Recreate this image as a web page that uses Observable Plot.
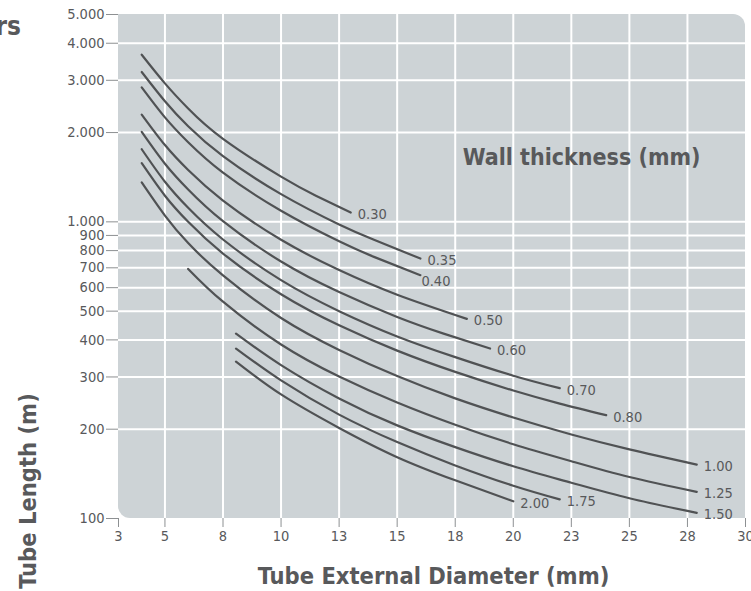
<!DOCTYPE html>
<html><head><meta charset="utf-8">
<script src="https://cdn.jsdelivr.net/npm/d3@7"></script>
<script src="https://cdn.jsdelivr.net/npm/@observablehq/plot@0.6"></script>
<style>
html,body{margin:0;padding:0;background:#fff;}
#chart{position:relative;width:751px;height:591px;overflow:hidden;}
</style></head><body><div id="chart"></div>
<script>
// ---- data ----
const thickness = ["0.30","0.35","0.40","0.50","0.60","0.70","0.80","1.00","1.25","1.50","1.75","2.00"];
const t030 = [[4.0,3660],[5,2930],[6,2410],[7.5,1905],[10,1420],[11.5,1225],[13.0,1075]];
const t035 = [[4.0,3200],[5,2550],[6,2100],[7.5,1665],[10,1240],[12.5,980],[14,870],[16.0,752]];
const t040 = [[4.0,2840],[5,2250],[6,1855],[7.5,1465],[10,1090],[12.5,860],[14,762],[16.0,661]];
const t050 = [[4.0,2300],[5,1815],[6,1495],[7.5,1180],[10,870],[12.5,688],[15,568],[18.0,471]];
const t060 = [[4.0,2010],[5,1570],[6,1285],[7.5,1005],[10,735],[12.5,580],[15,478],[17,420],[19.0,374]];
const t070 = [[4.0,1757],[5,1365],[6,1115],[7.5,872],[10,636],[12.5,500],[15,411],[17.5,350],[20,303],[22.0,275]];
const t080 = [[4.0,1577],[5,1225],[6,1000],[7.5,782],[10,570],[12.5,448],[15,368],[17.5,312],[20,270],[22,244],[24.0,223]];
const t100 = [[4.0,1358],[5,1050],[6,848],[7.5,660],[10,474],[12.5,370],[15,302],[17.5,254],[20,219],[22.5,192],[25,171],[27.9,152]];
const t125 = [[6.0,694],[7.5,538],[10,386],[12.5,301],[15,246],[17.5,207],[20,178],[22.5,156],[25,138],[27.9,123]];
const t150 = [[8.06,420],[10,329],[12.5,254],[15,206],[17.5,174],[20,150],[22.5,132],[25,117],[27.9,104.5]];
const t175 = [[8.06,374],[10,292],[12.5,224],[15,181],[17.5,151],[20,129],[22.0,116]];
const t200 = [[8.06,338],[10,262],[12.5,202],[15,161],[17.5,134.5],[20.0,114.3]];

const xTicks = [3,5,7.5,10,12.5,15,17.5,20,22.5,25,27.5,30];
const xTickLabels = ["3","5","8","10","13","15","18","20","23","25","28","30"];
const yTicks = [100,200,300,400,500,600,700,800,900,1000,2000,3000,4000,5000];
const yTickLabels = ["100","200","300","400","500","600","700","800","900","1.000","2.000","3.000","4.000","5.000"];

const xTitle = "Tube External Diameter (mm)";
const yTitle = "Tube Length (m)";
const legendTitle = "Wall thickness (mm)";
const cutTitle = "rs";

// ---- build tables ----
const series = [t030,t035,t040,t050,t060,t070,t080,t100,t125,t150,t175,t200];
const rows = series.flatMap((pts,i)=>pts.map(([x,y])=>({t:thickness[i],x,y})));
const ends = series.map((pts,i)=>({t:thickness[i],x:pts[pts.length-1][0],y:pts[pts.length-1][1]}));

const FONT = "'DejaVu Sans Condensed','DejaVu Sans',sans-serif";
const TXT = "#58595b";
const LINE = "#505254";

const chart = Plot.plot({
  width:751, height:591,
  marginTop:14, marginRight:6, marginBottom:73, marginLeft:118,
  style:{fontFamily:FONT, background:"transparent", color:TXT, overflow:"visible"},
  x:{type:"linear", domain:[3,30]},
  y:{type:"log", domain:[100,5000]},
  marks:[
    Plot.gridX(xTicks.filter(d=>d>3&&d<30), {stroke:"#fff", strokeOpacity:1, strokeWidth:2}),
    Plot.gridY(yTicks.filter(d=>d>100&&d<5000), {stroke:"#fff", strokeOpacity:1, strokeWidth:2}),
    Plot.axisX(xTicks, {tickFormat:d=>xTickLabels[xTicks.indexOf(d)], tickSize:9, tickPadding:3, fontSize:14.5, stroke:"#8d9092", fill:TXT, label:null}),
    Plot.axisY(yTicks, {tickFormat:d=>yTickLabels[yTicks.indexOf(d)], tickSize:12, tickPadding:2, fontSize:14.5, stroke:"#8d9092", fill:TXT, label:null}),
    Plot.line(rows, {x:"x", y:"y", z:"t", curve:"natural", stroke:LINE, strokeWidth:2.2}),
    Plot.text(ends.filter(d=>d.t!=="0.40"), {x:"x", y:"y", text:"t", dx:7, dy:2, textAnchor:"start", fontSize:14.5, fill:TXT}),
    Plot.text(ends.filter(d=>d.t==="0.40"), {x:"x", y:"y", text:"t", dx:1, dy:6, textAnchor:"start", fontSize:14.5, fill:TXT}),
    Plot.text([legendTitle], {text:d=>d, frameAnchor:"top-right", dx:-45, dy:134, textAnchor:"end", fontSize:23, fontWeight:"bold", fill:TXT})
  ]
});

// rounded plot background (top-right and bottom-left corners rounded)
const sx = chart.scale("x"), sy = chart.scale("y");
const x0 = sx.apply(3), x1 = sx.apply(30), y0 = sy.apply(5000), y1 = sy.apply(100), r = 12;
const svg = d3.select(chart);
const firstG = chart.querySelector("g");
const bg = document.createElementNS("http://www.w3.org/2000/svg","path");
bg.setAttribute("d", `M${x0},${y0}H${x1-r}A${r},${r} 0 0 1 ${x1},${y0+r}V${y1}H${x0+r}A${r},${r} 0 0 1 ${x0},${y1-r}Z`);
bg.setAttribute("fill", "#cdd3d6");
chart.insertBefore(bg, firstG);

// axis titles
svg.append("text").attr("x",(x0+x1)/2+2).attr("y",584).attr("text-anchor","middle")
  .attr("font-family",FONT).attr("font-size",23.5).attr("font-weight","bold").attr("fill",TXT).text(xTitle);
svg.append("text").attr("transform","translate(36,491) rotate(-90)").attr("text-anchor","middle")
  .attr("font-family",FONT).attr("font-size",23.5).attr("font-weight","bold").attr("fill",TXT).text(yTitle);
svg.append("text").attr("x",21).attr("y",35).attr("text-anchor","end")
  .attr("font-family",FONT).attr("font-size",26).attr("font-weight","bold").attr("fill",TXT).text(cutTitle);

document.getElementById("chart").appendChild(chart);
</script></body></html>
